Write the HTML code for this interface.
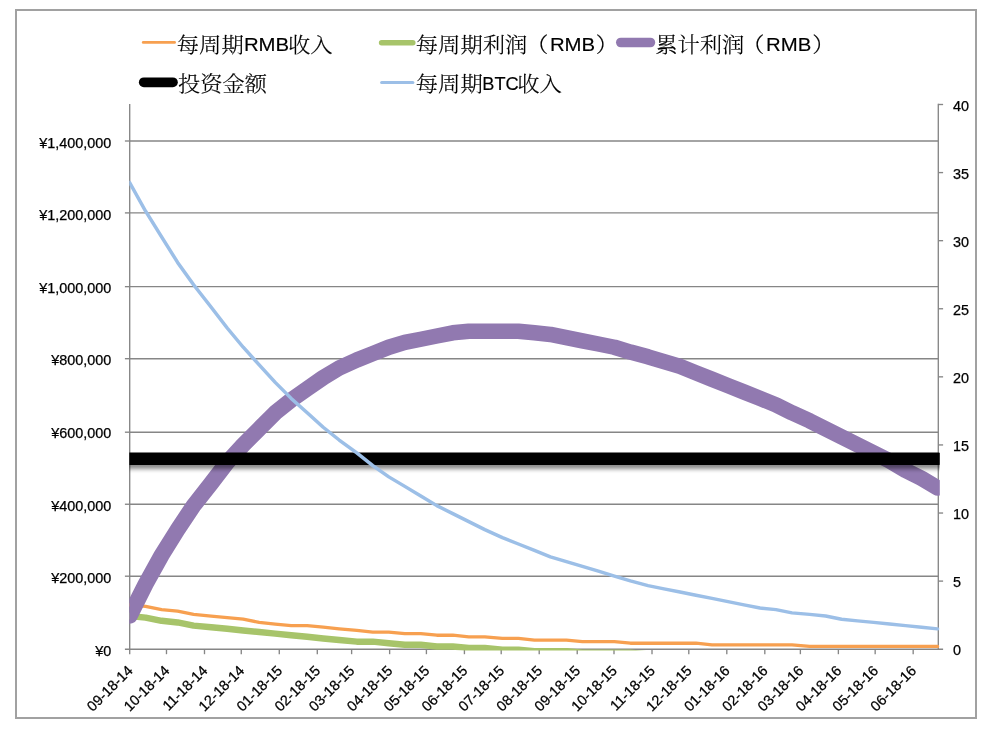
<!DOCTYPE html>
<html lang="zh-CN"><head><meta charset="utf-8"><title>挖矿收益图表</title>
<style>html,body{margin:0;padding:0;background:#fff}body{width:989px;height:729px;overflow:hidden}svg{display:block}.lat{font-family:"Liberation Sans","Noto Serif CJK SC",sans-serif}.leg{font-family:"Liberation Sans","Noto Serif CJK SC",serif;font-size:22.3px;font-weight:300;fill:#000;stroke:#000;stroke-width:0.18px}.leg .l{font-size:18.4px;font-weight:400;stroke:#000;stroke-width:0.15px}.ax{font-family:"Liberation Sans",sans-serif;font-size:14.4px;fill:#000;stroke:#000;stroke-width:0.25px}</style></head><body>
<svg width="989" height="729" viewBox="0 0 989 729">
<defs><clipPath id="plot"><rect x="129.3" y="100" width="810.5" height="550.5"/></clipPath>
<filter id="sh" filterUnits="userSpaceOnUse" x="100" y="430" width="830" height="70"><feGaussianBlur in="SourceAlpha" stdDeviation="2.3"/><feOffset dx="0" dy="4" result="b"/><feFlood flood-color="#000" flood-opacity="0.46"/><feComposite in2="b" operator="in"/><feMerge><feMergeNode/><feMergeNode in="SourceGraphic"/></feMerge></filter></defs>
<rect x="0" y="0" width="989" height="729" fill="#fff"/>
<rect x="16" y="10" width="960" height="708" fill="none" stroke="#a1a1a1" stroke-width="2"/>
<g stroke="#868686" stroke-width="1.35" fill="none">
<line x1="129.70" y1="576.20" x2="938.30" y2="576.20"/>
<line x1="129.70" y1="504.25" x2="938.30" y2="504.25"/>
<line x1="129.70" y1="432.20" x2="938.30" y2="432.20"/>
<line x1="129.70" y1="358.70" x2="938.30" y2="358.70"/>
<line x1="129.70" y1="286.65" x2="938.30" y2="286.65"/>
<line x1="129.70" y1="212.90" x2="938.30" y2="212.90"/>
<line x1="129.70" y1="141.00" x2="938.30" y2="141.00"/>
<line x1="129.70" y1="104.00" x2="129.70" y2="654.20"/>
<line x1="938.30" y1="103.80" x2="938.30" y2="649.90"/>
<line x1="124.90" y1="649.20" x2="943.10" y2="649.20"/>
<line x1="124.90" y1="576.20" x2="129.70" y2="576.20"/>
<line x1="124.90" y1="504.25" x2="129.70" y2="504.25"/>
<line x1="124.90" y1="432.20" x2="129.70" y2="432.20"/>
<line x1="124.90" y1="358.70" x2="129.70" y2="358.70"/>
<line x1="124.90" y1="286.65" x2="129.70" y2="286.65"/>
<line x1="124.90" y1="212.90" x2="129.70" y2="212.90"/>
<line x1="124.90" y1="141.00" x2="129.70" y2="141.00"/>
<line x1="938.30" y1="581.11" x2="943.10" y2="581.11"/>
<line x1="938.30" y1="513.03" x2="943.10" y2="513.03"/>
<line x1="938.30" y1="444.94" x2="943.10" y2="444.94"/>
<line x1="938.30" y1="376.85" x2="943.10" y2="376.85"/>
<line x1="938.30" y1="308.76" x2="943.10" y2="308.76"/>
<line x1="938.30" y1="240.68" x2="943.10" y2="240.68"/>
<line x1="938.30" y1="172.59" x2="943.10" y2="172.59"/>
<line x1="938.30" y1="104.50" x2="943.10" y2="104.50"/>
<line x1="166.48" y1="649.20" x2="166.48" y2="654.20"/>
<line x1="204.49" y1="649.20" x2="204.49" y2="654.20"/>
<line x1="241.27" y1="649.20" x2="241.27" y2="654.20"/>
<line x1="279.28" y1="649.20" x2="279.28" y2="654.20"/>
<line x1="317.29" y1="649.20" x2="317.29" y2="654.20"/>
<line x1="351.62" y1="649.20" x2="351.62" y2="654.20"/>
<line x1="389.63" y1="649.20" x2="389.63" y2="654.20"/>
<line x1="426.41" y1="649.20" x2="426.41" y2="654.20"/>
<line x1="464.42" y1="649.20" x2="464.42" y2="654.20"/>
<line x1="501.20" y1="649.20" x2="501.20" y2="654.20"/>
<line x1="539.21" y1="649.20" x2="539.21" y2="654.20"/>
<line x1="577.22" y1="649.20" x2="577.22" y2="654.20"/>
<line x1="614.00" y1="649.20" x2="614.00" y2="654.20"/>
<line x1="652.01" y1="649.20" x2="652.01" y2="654.20"/>
<line x1="688.79" y1="649.20" x2="688.79" y2="654.20"/>
<line x1="726.80" y1="649.20" x2="726.80" y2="654.20"/>
<line x1="764.81" y1="649.20" x2="764.81" y2="654.20"/>
<line x1="800.37" y1="649.20" x2="800.37" y2="654.20"/>
<line x1="838.37" y1="649.20" x2="838.37" y2="654.20"/>
<line x1="875.16" y1="649.20" x2="875.16" y2="654.20"/>
<line x1="913.17" y1="649.20" x2="913.17" y2="654.20"/>
</g>
<g clip-path="url(#plot)"><g transform="scale(1.04,1)" fill="none" stroke-linejoin="round" stroke-linecap="round">
<polyline stroke="#F7A050" stroke-width="3.3" points="124.62,604.83 140.00,606.43 155.38,609.63 170.77,611.23 186.15,614.43 203.08,616.03 218.46,617.63 233.85,619.23 249.23,622.43 264.62,624.03 280.00,625.63 295.38,625.63 310.77,627.23 326.15,628.83 343.08,630.43 358.46,632.03 373.85,632.03 389.23,633.63 404.62,633.63 420.00,635.23 435.38,635.23 450.77,636.83 466.15,636.83 483.08,638.43 498.46,638.43 513.85,640.03 529.23,640.03 544.62,640.03 560.00,641.63 575.38,641.63 590.77,641.63 606.15,643.23 623.08,643.23 638.46,643.23 653.85,643.23 669.23,643.23 684.62,644.83 700.00,644.83 715.38,644.83 730.77,644.83 746.15,644.83 761.54,644.83 778.46,646.43 793.85,646.43 809.23,646.43 824.62,646.43 840.00,646.43 855.38,646.43 870.77,646.43 886.15,646.43 901.54,646.43"/>
<polyline stroke="#A7C46A" stroke-width="6.5" points="124.62,616.03 140.00,617.63 155.38,620.83 170.77,622.43 186.15,625.63 203.08,627.23 218.46,628.83 233.85,630.43 249.23,632.03 264.62,633.63 280.00,635.23 295.38,636.83 310.77,638.43 326.15,640.03 343.08,641.63 358.46,641.63 373.85,643.23 389.23,644.83 404.62,644.83 420.00,646.43 435.38,646.43 450.77,648.03 466.15,648.03 483.08,649.63 498.46,649.63 513.85,651.23 529.23,651.23 544.62,651.23 560.00,652.83 575.38,652.83 590.77,652.83 606.15,652.83 623.08,654.43 638.46,654.43 653.85,654.43 669.23,654.43 684.62,656.03 700.00,656.03 715.38,656.03 730.77,656.03 746.15,656.03 761.54,656.03 778.46,656.03 793.85,657.63 809.23,657.63 824.62,657.63 840.00,657.63 855.38,657.63 870.77,657.63 886.15,657.63 901.54,657.63"/>
<polyline stroke="#9179B0" stroke-width="15.5" points="124.62,616.03 140.00,584.03 155.38,555.23 170.77,529.63 186.15,505.63 203.08,483.23 218.46,462.43 233.85,444.83 249.23,428.83 264.62,412.83 280.00,400.03 295.38,388.83 310.77,377.63 326.15,368.03 343.08,360.03 358.46,353.63 373.85,347.23 389.23,342.43 404.62,339.23 420.00,336.03 435.38,332.83 450.77,331.23 466.15,331.23 483.08,331.23 498.46,331.23 513.85,332.83 529.23,334.43 544.62,337.63 560.00,340.83 575.38,344.03 590.77,347.23 606.15,352.03 623.08,356.83 638.46,361.63 653.85,366.43 669.23,372.83 684.62,379.23 700.00,385.63 715.38,392.03 730.77,398.43 746.15,404.83 761.54,412.83 778.46,420.83 793.85,428.83 809.23,436.83 824.62,444.83 840.00,452.83 855.38,460.83 870.77,470.43 886.15,478.43 901.54,488.03"/>
<line filter="url(#sh)" stroke="#000" stroke-width="12.6" x1="124.71" y1="458.7" x2="902.21" y2="458.7"/>
<polyline stroke="#9CBFE7" stroke-width="3.4" points="124.62,182.43 140.00,211.23 155.38,236.83 170.77,262.43 186.15,284.83 203.08,307.23 218.46,328.03 233.85,347.23 249.23,364.83 264.62,382.43 280.00,398.43 295.38,412.83 310.77,427.23 326.15,440.03 343.08,452.83 358.46,465.63 373.85,476.83 389.23,486.43 404.62,496.03 420.00,505.63 435.38,513.63 450.77,521.63 466.15,529.63 483.08,537.63 498.46,544.03 513.85,550.43 529.23,556.83 544.62,561.63 560.00,566.43 575.38,571.23 590.77,576.03 606.15,580.83 623.08,585.63 638.46,588.83 653.85,592.03 669.23,595.23 684.62,598.43 700.00,601.63 715.38,604.83 730.77,608.03 746.15,609.63 761.54,612.83 778.46,614.43 793.85,616.03 809.23,619.23 824.62,620.83 840.00,622.43 855.38,624.03 870.77,625.63 886.15,627.23 901.54,628.83"/>
</g></g>
<g class="ax" text-anchor="end">
<text x="111.3" y="655.8">¥0</text>
<text x="111.3" y="583.2">¥200,000</text>
<text x="111.3" y="510.6">¥400,000</text>
<text x="111.3" y="438.0">¥600,000</text>
<text x="111.3" y="365.4">¥800,000</text>
<text x="111.3" y="292.8">¥1,000,000</text>
<text x="111.3" y="220.2">¥1,200,000</text>
<text x="111.3" y="147.6">¥1,400,000</text>
</g>
<g class="ax">
<text x="953" y="655.2">0</text>
<text x="953" y="587.1">5</text>
<text x="953" y="519.0">10</text>
<text x="953" y="450.9">15</text>
<text x="953" y="382.9">20</text>
<text x="953" y="314.8">25</text>
<text x="953" y="246.7">30</text>
<text x="953" y="178.6">35</text>
<text x="953" y="110.5">40</text>
</g>
<g class="ax" text-anchor="end">
<text transform="translate(133.6,671.5) rotate(-45)">09-18-14</text>
<text transform="translate(170.4,671.5) rotate(-45)">10-18-14</text>
<text transform="translate(208.4,671.5) rotate(-45)">11-18-14</text>
<text transform="translate(245.2,671.5) rotate(-45)">12-18-14</text>
<text transform="translate(283.2,671.5) rotate(-45)">01-18-15</text>
<text transform="translate(321.2,671.5) rotate(-45)">02-18-15</text>
<text transform="translate(355.5,671.5) rotate(-45)">03-18-15</text>
<text transform="translate(393.5,671.5) rotate(-45)">04-18-15</text>
<text transform="translate(430.3,671.5) rotate(-45)">05-18-15</text>
<text transform="translate(468.3,671.5) rotate(-45)">06-18-15</text>
<text transform="translate(505.1,671.5) rotate(-45)">07-18-15</text>
<text transform="translate(543.1,671.5) rotate(-45)">08-18-15</text>
<text transform="translate(581.1,671.5) rotate(-45)">09-18-15</text>
<text transform="translate(617.9,671.5) rotate(-45)">10-18-15</text>
<text transform="translate(655.9,671.5) rotate(-45)">11-18-15</text>
<text transform="translate(692.7,671.5) rotate(-45)">12-18-15</text>
<text transform="translate(730.7,671.5) rotate(-45)">01-18-16</text>
<text transform="translate(768.7,671.5) rotate(-45)">02-18-16</text>
<text transform="translate(804.3,671.5) rotate(-45)">03-18-16</text>
<text transform="translate(842.3,671.5) rotate(-45)">04-18-16</text>
<text transform="translate(879.1,671.5) rotate(-45)">05-18-16</text>
<text transform="translate(917.1,671.5) rotate(-45)">06-18-16</text>
</g>
<g stroke-linecap="round" fill="none">
<line x1="143.2" y1="42.4" x2="174.6" y2="42.4" stroke="#F7A050" stroke-width="2.7"/>
<line x1="381.6" y1="42.7" x2="412.8" y2="42.7" stroke="#A7C46A" stroke-width="5.5"/>
<line x1="620.8" y1="42.5" x2="650.4" y2="42.5" stroke="#9179B0" stroke-width="9.6"/>
<line x1="143.8" y1="82.3" x2="172.9" y2="82.3" stroke="#000" stroke-width="9.8"/>
<line x1="381.6" y1="82.4" x2="412.9" y2="82.4" stroke="#9CBFE7" stroke-width="3"/>
</g>
<g class="leg">
<text transform="translate(176.82,51.70) scale(1,0.94)">每周期</text>
<text class="l" transform="translate(243.90,50.9) scale(1.107,1)">RMB</text>
<text transform="translate(288.01,51.70) scale(1,0.94)">收入</text>
<text transform="translate(415.82,51.70) scale(1,0.94)">每周期利润</text>
<text transform="translate(526.07,51.70) scale(1,0.94)">（</text>
<text class="l" transform="translate(549.90,50.9) scale(1.107,1)">RMB</text>
<text transform="translate(595.78,51.70) scale(1,0.94)">）</text>
<text transform="translate(655.22,51.70) scale(1,0.94)">累计利润</text>
<text transform="translate(742.12,51.70) scale(1,0.94)">（</text>
<text class="l" transform="translate(766.00,50.9) scale(1.107,1)">RMB</text>
<text transform="translate(812.28,51.70) scale(1,0.94)">）</text>
<text transform="translate(178.02,90.90) scale(1,0.94)">投资金额</text>
<text transform="translate(415.82,90.90) scale(1,0.94)">每周期</text>
<text class="l" transform="translate(482.30,90.2) scale(0.990,1)">BTC</text>
<text transform="translate(517.31,90.90) scale(1,0.94)">收入</text>
</g>
</svg></body></html>
